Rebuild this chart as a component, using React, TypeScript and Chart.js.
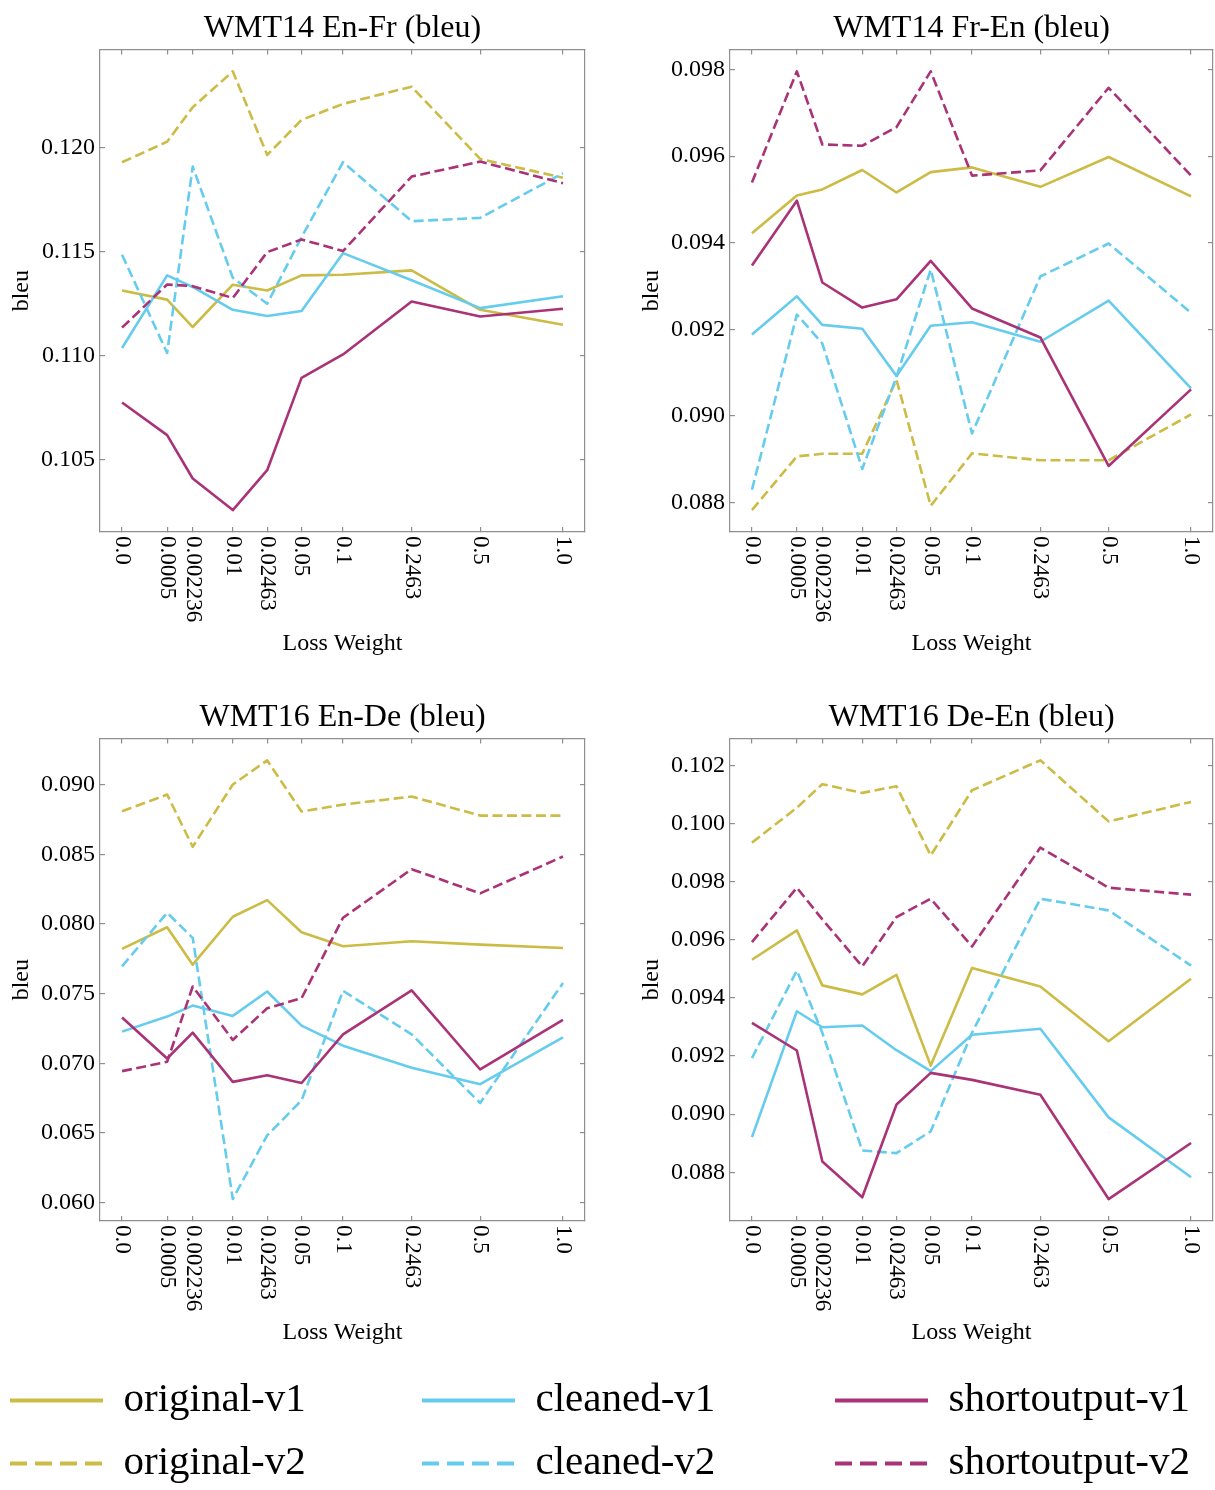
import React, { useEffect, useRef } from 'react';
import { Chart, registerables } from 'chart.js';

Chart.register(...registerables);

const FONT = "'Liberation Serif', 'Times New Roman', serif";
const C_ORIG = '#CCBB44';
const C_CLEAN = '#66CCEE';
const C_SHORT = '#AA3377';
const SPINE = '#8f8f8f';

// Loss weights (x axis categories) and their tick labels
const weights = [0.0, 0.0005, 0.002236, 0.01, 0.02463, 0.05, 0.1, 0.2463, 0.5, 1.0];
const weightLabels = ['0.0', '0.0005', '0.002236', '0.01', '0.02463', '0.05', '0.1', '0.2463', '0.5', '1.0'];
const seriesNames = ['original-v1', 'original-v2', 'cleaned-v1', 'cleaned-v2', 'shortoutput-v1', 'shortoutput-v2'];

// WMT14 En-Fr
const enFrOriginalV1 = [0.11313, 0.11269, 0.11137, 0.11341, 0.11313, 0.11386, 0.11389, 0.1141, 0.1122, 0.11148];
const enFrOriginalV2 = [0.11931, 0.1203, 0.12196, 0.12369, 0.11966, 0.12135, 0.12212, 0.12295, 0.11947, 0.11856];
const enFrCleanedV1 = [0.11036, 0.11386, 0.1133, 0.1122, 0.1119, 0.11214, 0.11493, 0.11362, 0.11228, 0.11285];
const enFrCleanedV2 = [0.11485, 0.11012, 0.1191, 0.11374, 0.11249, 0.1157, 0.11931, 0.11647, 0.11663, 0.11878];
const enFrShortV1 = [0.10773, 0.10616, 0.10407, 0.10255, 0.10447, 0.10892, 0.11005, 0.1126, 0.11188, 0.11225];
const enFrShortV2 = [0.11134, 0.11342, 0.11334, 0.11277, 0.11498, 0.11559, 0.11503, 0.11862, 0.11934, 0.1183];
const enFrYTicks = [0.105, 0.11, 0.115, 0.12];

// WMT14 Fr-En
const frEnOriginalV1 = [0.09422, 0.09509, 0.09523, 0.09568, 0.09516, 0.09563, 0.09574, 0.09529, 0.09598, 0.09507];
const frEnOriginalV2 = [0.08782, 0.08906, 0.08912, 0.08912, 0.09083, 0.08792, 0.08913, 0.08897, 0.08897, 0.09003];
const frEnCleanedV1 = [0.09188, 0.09276, 0.0921, 0.09201, 0.09092, 0.09208, 0.09216, 0.09171, 0.09266, 0.09063];
const frEnCleanedV2 = [0.08829, 0.09234, 0.09167, 0.08877, 0.0909, 0.09338, 0.08959, 0.09322, 0.09398, 0.09238];
const frEnShortV1 = [0.09347, 0.09497, 0.09308, 0.0925, 0.09269, 0.09358, 0.09248, 0.09181, 0.08884, 0.09061];
const frEnShortV2 = [0.09539, 0.09796, 0.09627, 0.09624, 0.09667, 0.09796, 0.09555, 0.09567, 0.09758, 0.09555];
const frEnYTicks = [0.088, 0.09, 0.092, 0.094, 0.096, 0.098];

// WMT16 En-De
const enDeOriginalV1 = [0.07821, 0.07977, 0.07708, 0.08052, 0.08172, 0.07941, 0.0784, 0.07876, 0.07852, 0.07828];
const enDeOriginalV2 = [0.0881, 0.0893, 0.08555, 0.09002, 0.09176, 0.08808, 0.08858, 0.08916, 0.08779, 0.08779];
const enDeCleanedV1 = [0.07227, 0.07335, 0.07414, 0.0734, 0.07515, 0.0727, 0.07126, 0.06967, 0.06849, 0.07186];
const enDeCleanedV2 = [0.07696, 0.08081, 0.079, 0.06024, 0.06481, 0.06733, 0.0752, 0.07207, 0.06714, 0.07576];
const enDeShortV1 = [0.07328, 0.07034, 0.0722, 0.06866, 0.06914, 0.06858, 0.07207, 0.07523, 0.06955, 0.07311];
const enDeShortV2 = [0.06943, 0.0701, 0.07551, 0.07167, 0.07395, 0.07467, 0.08045, 0.08394, 0.0822, 0.08485];
const enDeYTicks = [0.06, 0.065, 0.07, 0.075, 0.08, 0.085, 0.09];

// WMT16 De-En
const deEnOriginalV1 = [0.09531, 0.09632, 0.09443, 0.09412, 0.09479, 0.09167, 0.09503, 0.09439, 0.09251, 0.09466];
const deEnOriginalV2 = [0.09934, 0.10054, 0.10135, 0.10105, 0.10128, 0.0989, 0.10114, 0.10217, 0.10007, 0.10074];
const deEnCleanedV1 = [0.08921, 0.09354, 0.09299, 0.09305, 0.0922, 0.09148, 0.09273, 0.09294, 0.08989, 0.08783];
const deEnCleanedV2 = [0.09193, 0.09494, 0.0928, 0.08875, 0.08866, 0.08941, 0.0928, 0.09741, 0.09701, 0.09511];
const deEnShortV1 = [0.09314, 0.09219, 0.08837, 0.08714, 0.09033, 0.09142, 0.09118, 0.09067, 0.08708, 0.08901];
const deEnShortV2 = [0.09592, 0.09779, 0.0967, 0.09508, 0.09678, 0.09741, 0.09577, 0.09917, 0.09779, 0.09755];
const deEnYTicks = [0.088, 0.09, 0.092, 0.094, 0.096, 0.098, 0.1, 0.102];

const seriesColors = [C_ORIG, C_ORIG, C_CLEAN, C_CLEAN, C_SHORT, C_SHORT];
const seriesDashed = [false, true, false, true, false, true];

type Panel = { title: string; series: number[][]; yTicks: number[]; left: number; top: number; width: number; padRight: number };

const panels: Panel[] = [
  { title: 'WMT14 En-Fr (bleu)', series: [enFrOriginalV1, enFrOriginalV2, enFrCleanedV1, enFrCleanedV2, enFrShortV1, enFrShortV2], yTicks: enFrYTicks, left: 0, top: 0, width: 600, padRight: 15 },
  { title: 'WMT14 Fr-En (bleu)', series: [frEnOriginalV1, frEnOriginalV2, frEnCleanedV1, frEnCleanedV2, frEnShortV1, frEnShortV2], yTicks: frEnYTicks, left: 630, top: 0, width: 585, padRight: 2 },
  { title: 'WMT16 En-De (bleu)', series: [enDeOriginalV1, enDeOriginalV2, enDeCleanedV1, enDeCleanedV2, enDeShortV1, enDeShortV2], yTicks: enDeYTicks, left: 0, top: 689, width: 600, padRight: 15 },
  { title: 'WMT16 De-En (bleu)', series: [deEnOriginalV1, deEnOriginalV2, deEnCleanedV1, deEnCleanedV2, deEnShortV1, deEnShortV2], yTicks: deEnYTicks, left: 630, top: 689, width: 585, padRight: 2 },
];

const PANEL_H = 690;
const X_EXP = 0.3;
const xPos = weights.map((w) => Math.pow(w, X_EXP));

const rotatedXLabels = {
  id: 'rotatedXLabels',
  afterDraw(chart: any) {
    const s = chart.scales.x;
    const ctx = chart.ctx;
    ctx.save();
    ctx.font = `23px ${FONT}`;
    ctx.fillStyle = '#000';
    ctx.textAlign = 'left';
    ctx.textBaseline = 'middle';
    s.ticks.forEach((t: any) => {
      const px = s.getPixelForValue(t.value);
      ctx.save();
      ctx.translate(px, chart.chartArea.bottom + 4);
      ctx.rotate(Math.PI / 2);
      ctx.fillText(String(t.label), 0, 0);
      ctx.restore();
    });
    ctx.restore();
  },
};

function buildConfig(p: Panel): any {
  const all = p.series.flat();
  const lo = Math.min(...all);
  const hi = Math.max(...all);
  const m = (hi - lo) * 0.05;
  const yMin = lo - m;
  const yMax = hi + m;
  const grid = { drawOnChartArea: false, drawTicks: true, tickLength: -5, color: SPINE, lineWidth: 1.2 };
  const border = { display: true, color: SPINE, width: 1.2 };
  const setXTicks = (s: any) => { s.ticks = xPos.map((v) => ({ value: v })); };
  const setYTicks = (s: any) => { s.ticks = p.yTicks.map((v) => ({ value: v })); };

  const datasets = p.series.map((arr, i) => ({
    label: seriesNames[i],
    data: arr.map((y, j) => ({ x: xPos[j], y })),
    borderColor: seriesColors[i],
    backgroundColor: seriesColors[i],
    borderWidth: 2.6,
    borderDash: seriesDashed[i] ? [10, 4.5] : [],
    borderJoinStyle: 'round',
    borderCapStyle: 'butt',
    pointRadius: 0,
    pointHoverRadius: 0,
    tension: 0,
    fill: false,
    order: 10 - i,
  }));

  return {
    type: 'line',
    data: { datasets },
    plugins: [rotatedXLabels],
    options: {
      responsive: false,
      animation: false,
      devicePixelRatio: 1,
      events: [],
      layout: { padding: { left: 0, right: p.padRight, top: 0, bottom: 0 } },
      plugins: {
        legend: { display: false },
        tooltip: { enabled: false },
        title: {
          display: true,
          text: p.title,
          fullSize: false,
          color: '#000',
          font: { family: FONT, size: 32, weight: 'normal' },
          padding: { top: 9, bottom: 2 },
        },
      },
      scales: {
        x: {
          type: 'linear',
          position: 'bottom',
          min: -0.05,
          max: 1.05,
          afterBuildTicks: setXTicks,
          afterFit: (s: any) => { s.height = PANEL_H - 532; },
          ticks: { display: false, callback: (_v: any, i: number) => weightLabels[i] },
          grid,
          border,
          title: { display: true, text: 'Loss Weight', color: '#000', font: { family: FONT, size: 24 }, padding: { top: 0, bottom: 32 } },
        },
        x2: {
          type: 'linear',
          position: 'top',
          min: -0.05,
          max: 1.05,
          afterBuildTicks: setXTicks,
          afterFit: (s: any) => { s.height = 0; },
          ticks: { display: false },
          grid,
          border,
        },
        y: {
          type: 'linear',
          position: 'left',
          min: yMin,
          max: yMax,
          afterBuildTicks: setYTicks,
          afterFit: (s: any) => { s.width = 100; },
          ticks: {
            color: '#000',
            font: { family: FONT, size: 24 },
            padding: 10,
            callback: (v: any) => Number(v).toFixed(3),
          },
          grid,
          border,
          title: { display: true, text: 'bleu', color: '#000', font: { family: FONT, size: 24 }, padding: { top: 7, bottom: 0 } },
        },
        y2: {
          type: 'linear',
          position: 'right',
          min: yMin,
          max: yMax,
          afterBuildTicks: setYTicks,
          afterFit: (s: any) => { s.width = 0; },
          ticks: { display: false },
          grid,
          border,
        },
      },
    },
  };
}

function PanelChart({ panel }: { panel: Panel }) {
  const ref = useRef<HTMLCanvasElement>(null);
  useEffect(() => {
    const chart = new Chart(ref.current as HTMLCanvasElement, buildConfig(panel));
    return () => chart.destroy();
  }, [panel]);
  return (
    <canvas
      ref={ref}
      width={panel.width}
      height={PANEL_H}
      style={{ position: 'absolute', left: panel.left, top: panel.top, width: panel.width, height: PANEL_H }}
    />
  );
}

type LegendCol = { idx: number[]; left: number };
const legendCols: LegendCol[] = [
  { idx: [0, 1], left: -12 },
  { idx: [2, 3], left: 400 },
  { idx: [4, 5], left: 813 },
];

function LegendChart({ col }: { col: LegendCol }) {
  const ref = useRef<HTMLCanvasElement>(null);
  useEffect(() => {
    const datasets = col.idx.map((i) => ({
      label: seriesNames[i],
      data: [],
      borderColor: seriesColors[i],
      borderDash: seriesDashed[i] ? [17, 8] : [],
      borderWidth: 4,
    }));
    const chart = new Chart(ref.current as HTMLCanvasElement, {
      type: 'line',
      data: { datasets },
      options: {
        responsive: false,
        animation: false,
        devicePixelRatio: 1,
        events: [],
        layout: { padding: 0 },
        scales: { x: { display: false }, y: { display: false } },
        plugins: {
          tooltip: { enabled: false },
          legend: {
            display: true,
            position: 'left',
            align: 'start',
            labels: {
              usePointStyle: true,
              pointStyle: 'line',
              pointStyleWidth: 93,
              color: '#000',
              padding: 22,
              font: { family: FONT, size: 41 },
              generateLabels: (chart: any) =>
                chart.data.datasets.map((ds: any, i: number) => ({
                  text: ds.label,
                  fillStyle: 'rgba(0,0,0,0)',
                  strokeStyle: ds.borderColor,
                  lineWidth: 4,
                  lineDash: ds.borderDash,
                  lineCap: 'butt',
                  pointStyle: 'line',
                  hidden: false,
                  datasetIndex: i,
                  fontColor: '#000',
                })),
            },
          },
        },
      } as any,
    } as any);
    return () => chart.destroy();
  }, [col]);
  return (
    <canvas
      ref={ref}
      width={900}
      height={170}
      style={{ position: 'absolute', left: col.left, top: 1358, width: 900, height: 170 }}
    />
  );
}

export default function App() {
  return (
    <div
      style={{
        position: 'absolute',
        left: 0,
        top: 0,
        width: 1215,
        height: 1490,
        overflow: 'hidden',
        background: '#fff',
      }}
    >
      {panels.map((p, i) => (
        <PanelChart key={i} panel={p} />
      ))}
      {legendCols.map((c, i) => (
        <LegendChart key={'l' + i} col={c} />
      ))}
    </div>
  );
}
